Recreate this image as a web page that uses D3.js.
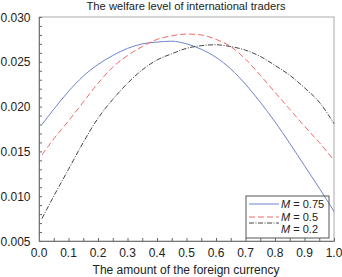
<!DOCTYPE html>
<html>
<head>
<meta charset="utf-8">
<script src="https://cdn.jsdelivr.net/npm/d3@7"></script>
<style>
  body { margin: 0; background: #fff; }
  svg { font-family: "Liberation Sans", Arial, sans-serif; }
</style>
</head>
<body>
<svg id="chart" width="342" height="277"></svg>
<script>
const xs = [0.01, 0.05, 0.10, 0.15, 0.20, 0.25, 0.30, 0.35, 0.40, 0.45, 0.50,
  0.55, 0.60, 0.65, 0.70, 0.75, 0.80, 0.85, 0.90, 0.95, 1.00];
const m075 = [0.0180, 0.0197, 0.0217, 0.0234, 0.0247, 0.0257, 0.0265, 0.0270, 0.0272, 0.0273, 0.0270,
  0.0264, 0.0255, 0.0242, 0.0225, 0.0205, 0.0183, 0.0159, 0.0134, 0.0109, 0.0083];
const m05 = [0.0146, 0.0164, 0.0184, 0.0205, 0.0226, 0.0244, 0.0257, 0.0267, 0.0275, 0.0279, 0.0281,
  0.0280, 0.0275, 0.0267, 0.0253, 0.0235, 0.0216, 0.0197, 0.0178, 0.0160, 0.0140];
const m02 = [0.0075, 0.0100, 0.0130, 0.0160, 0.0187, 0.0208, 0.0226, 0.0241, 0.0252, 0.0259, 0.0265,
  0.0268, 0.0269, 0.0267, 0.0263, 0.0256, 0.0246, 0.0235, 0.0221, 0.0205, 0.0181];
const labels = ["0.75", "0.5", "0.2"];
const xTicks = d3.range(0, 1.0001, 0.1);
const yTicks = [0.005, 0.010, 0.015, 0.020, 0.025, 0.030];

const mLeft = 39, mRight = 334, mTop = 17, mBottom = 241;
const svg = d3.select("#chart");

let x = d3.scaleLinear().domain([0, 1]).range([mLeft, mRight]);
let y = d3.scaleLinear().domain([0.005, 0.030]).range([mBottom, mTop]);

// frame
svg.append("rect")
  .attr("x", mLeft).attr("y", mTop)
  .attr("width", mRight - mLeft).attr("height", mBottom - mTop)
  .attr("fill", "none").attr("stroke", "#aaa").attr("stroke-width", 1);

// bottom axis, ticks inward
let xAxis = svg.append("g")
  .attr("transform", `translate(0,${mBottom})`)
  .call(d3.axisTop(x).tickValues(d3.range(0, 1.0001, 0.05)).tickSize(3).tickFormat(""));
xAxis.select(".domain").attr("stroke", "#777");
xAxis.selectAll(".tick line").attr("stroke", "#666");

svg.append("g").selectAll("text")
  .data(xTicks).enter()
  .append("text")
  .attr("x", d => x(d))
  .attr("y", 256.5)
  .attr("text-anchor", "middle")
  .attr("font-size", 12)
  .attr("fill", "#222")
  .text(d => d3.format(".1f")(d));

// left axis, ticks inward
let yAxis = svg.append("g")
  .attr("transform", `translate(${mLeft},0)`)
  .call(d3.axisRight(y).tickValues(d3.range(0.005, 0.03001, 0.001)).tickSize(3).tickFormat(""));
yAxis.select(".domain").attr("stroke", "#777");
yAxis.selectAll(".tick line").attr("stroke", "#666");

svg.append("g").selectAll("text")
  .data(yTicks).enter()
  .append("text")
  .attr("x", 30.5)
  .attr("y", d => y(d) + 4.5)
  .attr("text-anchor", "end")
  .attr("font-size", 12)
  .attr("fill", "#222")
  .text(d => d3.format(".3f")(d));

// curves
const series = [
  { vals: m075, color: "#6d84ca", dash: null },
  { vals: m05, color: "#f06a6a", dash: "6,3" },
  { vals: m02, color: "#444", dash: "5,1.5,1,1.5" }
];

let line = d3.line()
  .x(d => x(d[0]))
  .y(d => y(d[1]))
  .curve(d3.curveMonotoneX);

svg.append("g").selectAll("path")
  .data(series).enter()
  .append("path")
  .attr("d", s => line(xs.map((v, i) => [v, s.vals[i]])))
  .attr("fill", "none")
  .attr("stroke", s => s.color)
  .attr("stroke-width", 1)
  .attr("stroke-dasharray", s => s.dash);

// legend
let lg = svg.append("g");
lg.append("rect")
  .attr("x", 246).attr("y", 196)
  .attr("width", 83).attr("height", 42)
  .attr("fill", "none").attr("stroke", "#555").attr("stroke-width", 1);

const rowsLine = [204, 217, 223];
const rowsText = [207.5, 220.5, 233];
series.forEach((s, i) => {
  lg.append("line")
    .attr("x1", 249).attr("x2", 279)
    .attr("y1", rowsLine[i]).attr("y2", rowsLine[i])
    .attr("stroke", s.color)
    .attr("stroke-width", 1)
    .attr("stroke-dasharray", s.dash);
  let t = lg.append("text")
    .attr("x", 281).attr("y", rowsText[i])
    .attr("font-size", 11)
    .attr("fill", "#222");
  t.append("tspan").attr("font-style", "italic").text("M");
  t.append("tspan").text(" = " + labels[i]);
});

// titles
svg.append("text")
  .attr("x", 186).attr("y", 9.8)
  .attr("text-anchor", "middle")
  .attr("font-size", 11.2)
  .attr("fill", "#222")
  .text("The welfare level of international traders");

svg.append("text")
  .attr("x", 186).attr("y", 274)
  .attr("text-anchor", "middle")
  .attr("font-size", 12)
  .attr("fill", "#222")
  .text("The amount of the foreign currency");
</script>
</body>
</html>
